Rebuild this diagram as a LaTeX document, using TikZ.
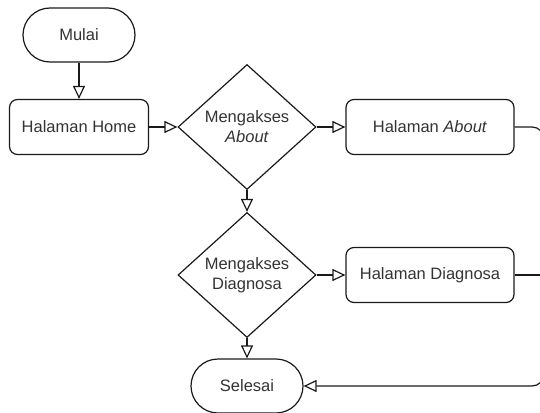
\documentclass[tikz,border=0pt]{standalone}
\usepackage{fontspec}
\setmainfont{Liberation Sans}
\usetikzlibrary{arrows.meta,shapes.geometric}
\definecolor{txt}{HTML}{333333}
\definecolor{ln}{HTML}{1A1A1A}
\begin{document}
\begin{tikzpicture}[x=1pt,y=-1pt,
  every node/.style={font=\fontsize{16.5}{20}\selectfont, text=txt, draw=ln, line width=1.2pt},
  term/.style={rectangle, rounded corners=27pt, minimum width=112pt, minimum height=54pt, inner sep=0pt},
  proc/.style={rectangle, rounded corners=8pt, minimum width=168pt, minimum height=55pt, inner sep=0pt},
  dec/.style={diamond, aspect=1.1, minimum width=138pt, minimum height=125pt, inner sep=0pt, align=center},
  arr/.style={draw=ln, line width=1.2pt, -{Triangle[open, length=13pt, width=12pt]}},
  plain/.style={draw=ln, line width=1.2pt}]
\useasboundingbox (0,0) rectangle (540,412);
\clip (0,0) rectangle (540,412);
\node[term] (mulai) at (79,35) {Mulai};
\node[proc, minimum width=139pt] (home) at (79,127) {Halaman Home};
\node[dec] (d1) at (247,127) {Mengakses\\\textit{About}};
\node[proc] (about) at (430,127) {Halaman \textit{About}};
\node[dec] (d2) at (247,275) {Mengakses\\Diagnosa};
\node[proc] (diag) at (430,275) {Halaman Diagnosa};
\node[term] (selesai) at (247,386) {Selesai};
\coordinate (r1) at (544,127);
\coordinate (r2) at (544,275);
\coordinate (r3) at (544,386);
\draw[arr] (mulai) -- (home);
\draw[arr] (home) -- (d1);
\draw[arr] (d1) -- (about);
\draw[arr] (d1) -- (d2);
\draw[arr] (d2) -- (diag);
\draw[arr] (d2) -- (selesai);
\draw[plain] (diag.east) -- (r2);
\draw[arr, rounded corners=12pt] (about.east) -- (r1) -- (r3) -- (selesai.east);
\end{tikzpicture}
\end{document}
